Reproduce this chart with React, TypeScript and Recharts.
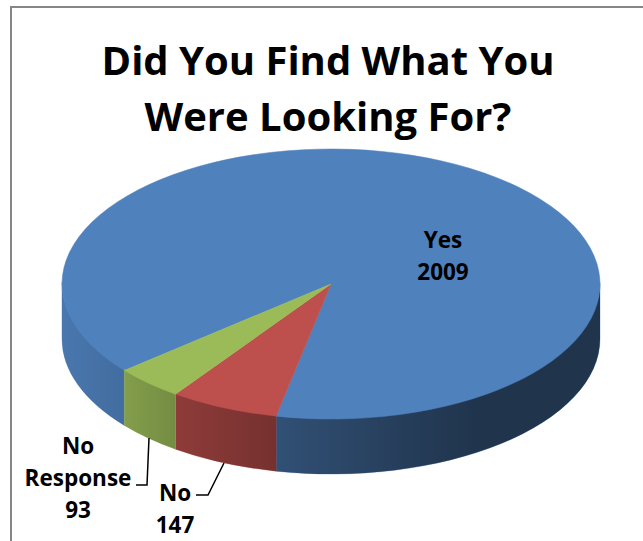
import React from "react";
import { PieChart, Pie, Cell } from "recharts";

const categories = ["Yes", "No", "No Response"];
const responses = [2009, 147, 93];
const sliceColors = ["#4f81bd", "#bd4f4c", "#9bbb59"];
const titleLines = ["Did You Find What You", "Were Looking For?"];

const chartData = categories.map((name, i) => ({ name, value: responses[i] }));

const WIDTH = 643;
const HEIGHT = 541;
const CX = 331;
const CY = 284;
const RX = 269;
const RY = 135;
const DEPTH = 55;
const FONT = "'Open Sans', sans-serif";

const labelLayout = [
  { x: 443, y: 239, lead: null },
  { x: 175, y: 492, lead: "M224 463 L208 495 L196 495" },
  { x: 78, y: 445, lead: "M149 438 L147 485 L136 485" },
];

const px = (deg: number) => CX + RX * Math.cos((deg * Math.PI) / 180);
const py = (deg: number, d = 0) => CY - RY * Math.sin((deg * Math.PI) / 180) + d;

function Slice(props: any) {
  const { startAngle, endAngle, fill } = props;
  const hi = Math.max(startAngle, endAngle);
  const lo = Math.min(startAngle, endAngle);
  const large = hi - lo > 180 ? 1 : 0;
  const top = `M${CX} ${CY} L${px(hi)} ${py(hi)} A${RX} ${RY} 0 ${large} 1 ${px(lo)} ${py(lo)} Z`;
  const walls: string[] = [];
  for (let k = -3; k <= 1; k++) {
    const wHi = Math.min(hi, 360 * k);
    const wLo = Math.max(lo, 360 * k - 180);
    if (wHi > wLo) {
      walls.push(
        `M${px(wHi)} ${py(wHi, -1.5)} A${RX} ${RY} 0 0 1 ${px(wLo)} ${py(wLo, -1.5)} L${px(wLo)} ${py(wLo, DEPTH)} A${RX} ${RY} 0 0 0 ${px(wHi)} ${py(wHi, DEPTH)} Z`
      );
    }
  }
  return (
    <g>
      {walls.map((d, i) => (
        <g key={i}>
          <path d={d} fill={fill} stroke={fill} strokeWidth={0.4} />
          <path d={d} fill="url(#wallShade)" />
        </g>
      ))}
      <path d={top} fill={fill} stroke={fill} strokeWidth={0.5} />
    </g>
  );
}

function SliceLabel(props: any) {
  const { index, name, value } = props;
  const layout = labelLayout[index];
  const lines = [...String(name).split(" "), String(value)];
  return (
    <g>
      {layout.lead && <path d={layout.lead} fill="none" stroke="#000" strokeWidth={1.5} />}
      {lines.map((line, i) => (
        <text
          key={i}
          x={layout.x}
          y={layout.y + i * 32}
          textAnchor="middle"
          dominantBaseline="central"
          fontFamily={FONT}
          fontWeight={700}
          fontSize={22.5}
          fill="#000"
        >
          {line}
        </text>
      ))}
    </g>
  );
}

export default function App() {
  return (
    <div style={{ position: "absolute", left: 0, top: 0, width: WIDTH, height: HEIGHT, overflow: "hidden", background: "#fff" }}>
      <div
        style={{
          position: "absolute",
          left: 10,
          top: 6,
          width: 700,
          height: 600,
          border: "2px solid #868686",
          boxSizing: "border-box",
        }}
      />
      <div style={{ position: "absolute", left: 0, top: 0 }}>
        <PieChart width={WIDTH} height={HEIGHT} margin={{ top: 0, right: 0, bottom: 0, left: 0 }}>
          <defs>
            <linearGradient id="wallShade" gradientUnits="userSpaceOnUse" x1={CX - RX} y1={0} x2={CX + RX} y2={0}>
              <stop offset="0" stopColor="#000" stopOpacity={0.08} />
              <stop offset="0.117" stopColor="#000" stopOpacity={0.16} />
              <stop offset="0.212" stopColor="#000" stopOpacity={0.25} />
              <stop offset="0.4" stopColor="#000" stopOpacity={0.38} />
              <stop offset="0.63" stopColor="#000" stopOpacity={0.52} />
              <stop offset="0.78" stopColor="#000" stopOpacity={0.6} />
              <stop offset="1" stopColor="#000" stopOpacity={0.6} />
            </linearGradient>
          </defs>
          {titleLines.map((line, i) => (
            <text
              key={line}
              x={328}
              y={59 + i * 56}
              textAnchor="middle"
              dominantBaseline="central"
              fontFamily={FONT}
              fontWeight={700}
              fontSize={40}
              fill="#000"
            >
              {line}
            </text>
          ))}
          <Pie
            data={chartData}
            dataKey="value"
            nameKey="name"
            cx={CX}
            cy={CY}
            innerRadius={0}
            outerRadius={RX}
            startAngle={-140.2}
            endAngle={-500.2}
            paddingAngle={0}
            stroke="none"
            isAnimationActive={false}
            shape={Slice}
            activeShape={Slice}
            inactiveShape={Slice}
            label={SliceLabel}
            labelLine={false}
          >
            {chartData.map((d, i) => (
              <Cell key={d.name} fill={sliceColors[i]} />
            ))}
          </Pie>
        </PieChart>
      </div>
    </div>
  );
}
